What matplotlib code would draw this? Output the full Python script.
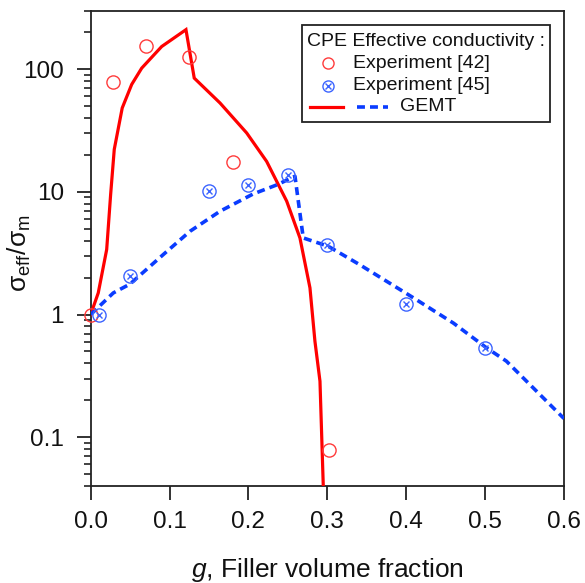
import matplotlib
matplotlib.use("Agg")
import matplotlib.pyplot as plt
from matplotlib.lines import Line2D
from matplotlib.patches import Rectangle
from matplotlib.ticker import LogLocator, FixedLocator, NullFormatter

plt.rcParams['font.family'] = ['Liberation Sans', 'DejaVu Sans']
plt.rcParams['mathtext.fontset'] = 'custom'
plt.rcParams['mathtext.rm'] = 'Liberation Sans'
plt.rcParams['mathtext.it'] = 'Liberation Sans:italic'

# Experimental data
exp42_x = [0.0, 0.028, 0.07, 0.125, 0.18, 0.302]
exp42_y = [1.0, 78, 155, 125, 17.5, 0.078]
exp45_x = [0.01, 0.05, 0.15, 0.2, 0.25, 0.3, 0.4, 0.5]
exp45_y = [1.0, 2.05, 10.2, 11.3, 13.6, 3.7, 1.22, 0.53]

# GEMT model curves
gemt42_x = [0.0, 0.0096, 0.0203, 0.0253, 0.0299, 0.040, 0.052, 0.0647, 0.090, 0.1208,
            0.1313, 0.164, 0.1978, 0.2231, 0.2485, 0.2653, 0.278, 0.2843, 0.2907, 0.2955]
gemt42_y = [1.0, 1.50, 3.39, 9.5, 22.2, 48.3, 75.1, 102, 153, 210,
            84.6, 53, 30.2, 17.7, 8.4, 4.21, 1.65, 0.606, 0.286, 0.03]
gemt45_x = [0.0, 0.0287, 0.0498, 0.092, 0.1259, 0.164, 0.2058, 0.236, 0.259,
            0.2695, 0.3012, 0.341, 0.409, 0.46, 0.502, 0.527, 0.6]
gemt45_y = [1.0, 1.50, 1.77, 3.08, 4.77, 6.95, 9.6, 11.4, 13.4,
            4.21, 3.6, 2.55, 1.37, 0.85, 0.534, 0.417, 0.142]

xticks = [0.0, 0.1, 0.2, 0.3, 0.4, 0.5, 0.6]
xticklabels = ["0.0", "0.1", "0.2", "0.3", "0.4", "0.5", "0.6"]
yticks = [0.1, 1, 10, 100]
yticklabels = ["0.1", "1", "10", "100"]

RED = '#FF0000'
BLUE = '#0A3CFF'
RED_M = '#FF3B3B'
BLUE_M = '#3C64FF'

fig = plt.figure(figsize=(5.85, 5.83), dpi=100)
ax = fig.add_axes([0.155, 0.1664, 0.809, 0.8153])

ax.plot(gemt42_x, gemt42_y, color=RED, lw=2.3, solid_joinstyle='miter', zorder=3)
ax.plot(gemt45_x, gemt45_y, color=BLUE, lw=2.6, dashes=(2.2, 1.4), zorder=3)

ax.plot(exp42_x, exp42_y, ls='none', marker='o', ms=9.5, mfc='none', mec=RED_M, mew=1.0, zorder=4, clip_on=False)
ax.plot(exp45_x, exp45_y, ls='none', marker='o', ms=9.5, mfc='none', mec=BLUE_M, mew=1.0, zorder=4, clip_on=False)
ax.plot(exp45_x, exp45_y, ls='none', marker='x', ms=4.5, mec=BLUE_M, mew=1.0, zorder=4, clip_on=False)

ax.set_yscale('log')
ax.set_xlim(0, 0.6)
ax.set_ylim(0.04, 300)

ax.xaxis.set_major_locator(FixedLocator(xticks))
ax.set_xticklabels(xticklabels)
ax.yaxis.set_major_locator(FixedLocator(yticks))
ax.set_yticklabels(yticklabels)
ax.yaxis.set_minor_locator(LogLocator(base=10, subs=range(2, 10)))
ax.yaxis.set_minor_formatter(NullFormatter())

ax.tick_params(axis='both', which='major', direction='out', length=10.3, width=1.3,
               labelsize=17.5, color='#222222', labelcolor='#111111')
ax.tick_params(axis='x', which='major', pad=8)
ax.tick_params(axis='y', which='major', pad=9)
ax.tick_params(axis='y', which='minor', direction='out', length=5.3, width=1.2, color='#222222')
ax.tick_params(top=False, right=False)
for s in ax.spines.values():
    s.set_linewidth(1.3)
    s.set_color('#222222')

ax.set_xlabel(r'$\mathit{g}$, Filler volume fraction', fontsize=19, color='#111111', labelpad=16)
ax.set_ylabel(r'$\mathrm{σ_{eff}/σ_{m}}$', fontsize=19, color='#111111')
ax.yaxis.set_label_coords(-0.122, 0.49)

# Legend (Origin-style box)
T = ax.transAxes
ax.add_patch(Rectangle((0.4458, 0.7665), 0.9704 - 0.4458, 0.970 - 0.7665, transform=T,
                       fill=True, facecolor='white', edgecolor='#222222', lw=1.3, zorder=6))
fs = 14
ax.text(0.4563, 0.9348, 'CPE Effective conductivity :', transform=T, fontsize=fs,
        va='center', ha='left', color='#111111', zorder=7)
ax.add_line(Line2D([0.5014], [0.8893], transform=T, ls='none', marker='o', ms=8,
                   mfc='none', mec=RED_M, mew=1.0, zorder=7))
ax.text(0.5542, 0.8893, 'Experiment [42]', transform=T, fontsize=fs, va='center', ha='left',
        color='#111111', zorder=7)
ax.add_line(Line2D([0.5014], [0.8416], transform=T, ls='none', marker='o', ms=8,
                   mfc='none', mec=BLUE_M, mew=1.0, zorder=7))
ax.add_line(Line2D([0.5014], [0.8416], transform=T, ls='none', marker='x', ms=3.8,
                   mec=BLUE_M, mew=1.0, zorder=7))
ax.text(0.5542, 0.8416, 'Experiment [45]', transform=T, fontsize=fs, va='center', ha='left',
        color='#111111', zorder=7)
ax.add_line(Line2D([0.4634, 0.5331], [0.7981, 0.7981], transform=T, color=RED, lw=2.3, zorder=7))
ax.add_line(Line2D([0.5626, 0.6281], [0.7981, 0.7981], transform=T, color=BLUE, lw=2.6,
                   dashes=(2.2, 1.4), zorder=7))
ax.text(0.6535, 0.7981, 'GEMT', transform=T, fontsize=fs, va='center', ha='left',
        color='#111111', zorder=7)

fig.savefig('out.png', dpi=100)
